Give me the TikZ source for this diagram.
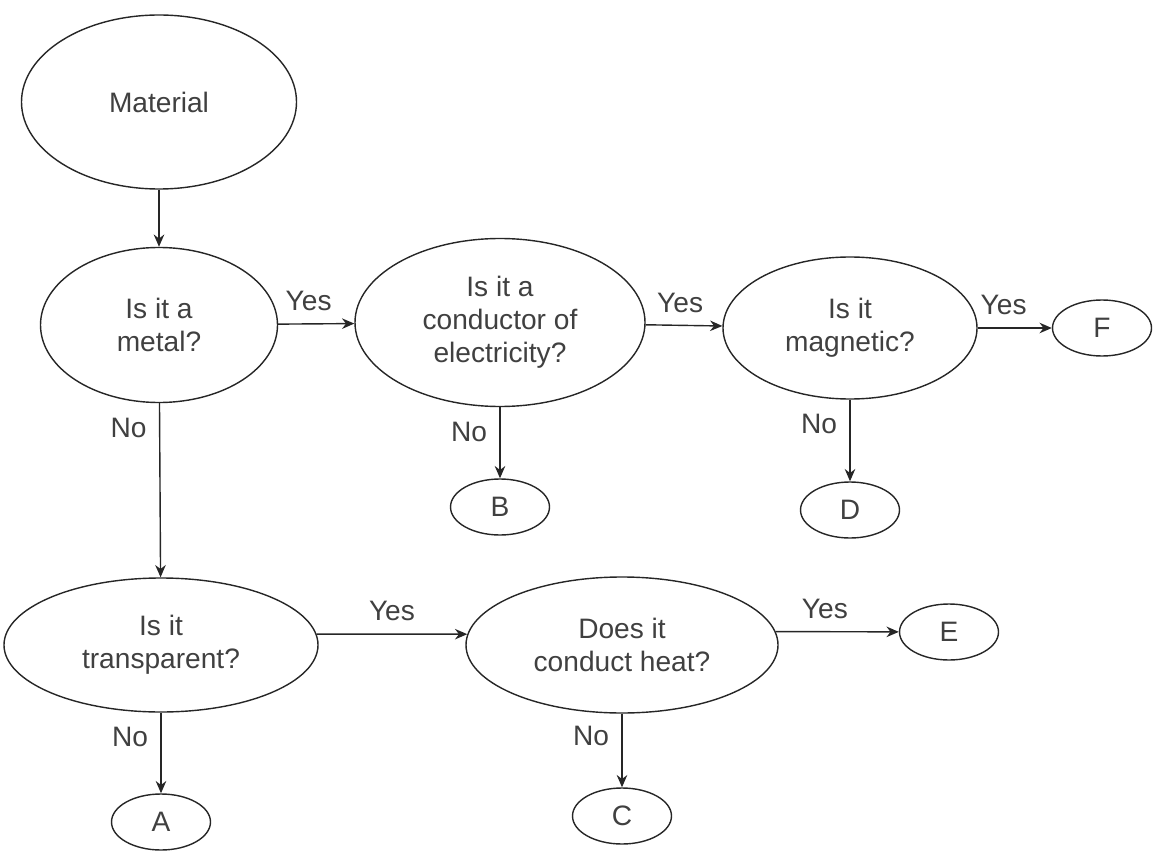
\documentclass[tikz,border=0pt]{standalone}
\usepackage{fontspec}
\setmainfont{Liberation Sans}
\usetikzlibrary{shapes.geometric,arrows.meta}
\tikzset{node distance=2.5cm, auto,
  >={Stealth[length=7pt,width=6pt]},
  question/.style={ellipse, draw, inner sep=0pt, align=center, text=black!75,
    font=\fontsize{16}{18.8}\selectfont},
  answer/.style={question, minimum width=1.98cm, minimum height=1.12cm},
  lbl/.style={text=black!75, inner sep=7pt, font=\fontsize{16}{18.8}\selectfont}}

\begin{document}
\begin{tikzpicture}[line width=0.8pt, black!85]
                \useasboundingbox (0,0) rectangle (23.1,-17.04);
                \node (mat)   [question, minimum width=5.5cm,  minimum height=3.48cm] at (3.18,-2.04)  {Material};
                \node (metal) [question, minimum width=4.74cm, minimum height=3.1cm]  at (3.18,-6.5)   {Is it a\\metal?};
                \node (cond)  [question, minimum width=5.8cm,  minimum height=3.36cm] at (10.0,-6.45)  {Is it a\\conductor of\\electricity?};
                \node (magn)  [question, minimum width=5.08cm, minimum height=2.84cm] at (17.0,-6.56)  {Is it\\magnetic?};
                \node (trans) [question, minimum width=6.28cm, minimum height=2.68cm] at (3.22,-12.9)  {Is it\\transparent?};
                \node (heat)  [question, minimum width=6.24cm, minimum height=2.72cm] at (12.44,-12.9) {Does it\\conduct heat?};
                \node (A) [answer] at (3.22,-16.44)  {A};
                \node (B) [answer] at (10.0,-10.14)  {B};
                \node (C) [answer] at (12.44,-16.32) {C};
                \node (D) [answer] at (17.0,-10.2)   {D};
                \node (E) [answer] at (18.98,-12.64) {E};
                \node (F) [answer] at (22.04,-6.56)  {F};
                \draw[->] (mat) to (metal);
                \draw[->] (metal) to node[lbl, pos=0.4] {Yes} (cond);
                \draw[->] (cond) to node[lbl, pos=0.45] {Yes} (magn);
                \draw[->] (magn) to node[lbl, pos=0.35] {Yes} (F);
                \draw[->] (cond) to node[lbl, swap, pos=0.35] {No} (B);
                \draw[->] (magn) to node[lbl, swap, pos=0.3] {No} (D);
                \draw[->] (metal) to node[lbl, swap, pos=0.14] {No} (trans);
                \draw[->] (trans.4) to node[lbl, pos=0.5] {Yes} (heat.176);
                \draw[->] (heat.5) to node[lbl, pos=0.4] {Yes} (E);
                \draw[->] (trans) to node[lbl, swap, pos=0.3] {No} (A);
                \draw[->] (heat) to node[lbl, swap, pos=0.3] {No} (C);
              \end{tikzpicture}
\end{document}
